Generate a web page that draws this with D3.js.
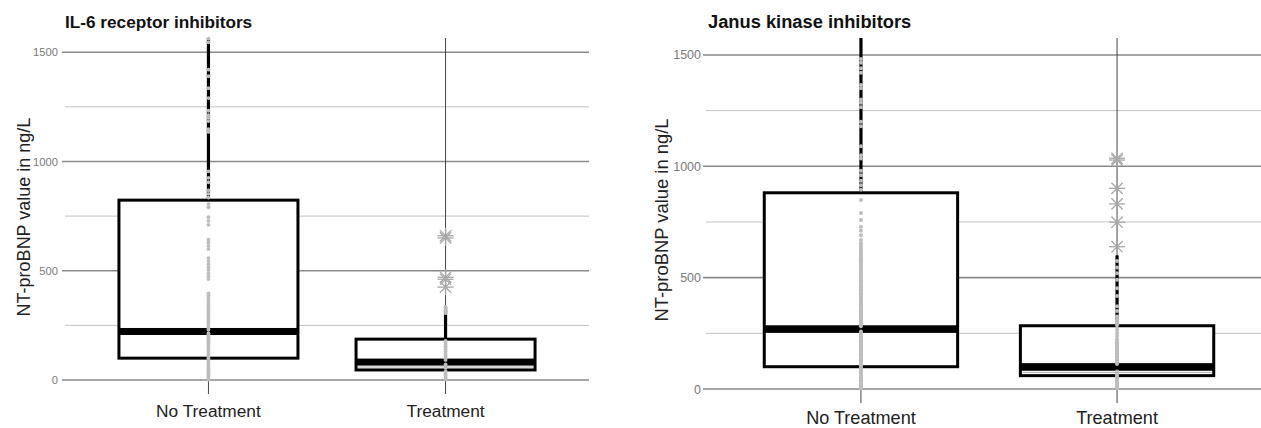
<!DOCTYPE html>
<html><head><meta charset="utf-8">
<script src="https://cdn.jsdelivr.net/npm/d3@7"></script>
<style>body{margin:0;background:#fff}svg{display:block}text{font-family:"Liberation Sans",Arial,sans-serif}</style>
</head><body><svg id="c" width="1261" height="428"></svg>
<script>
// ---------- data ----------
const categories = ["No Treatment", "Treatment"];
const yTicksMajor = [0, 500, 1000, 1500];
const yTicksMinor = [250, 750, 1250];
const yTitle = "NT-proBNP value in ng/L";

// IL-6 receptor inhibitors
const il6Title = "IL-6 receptor inhibitors";
const il6Q1 = [100, 46];
const il6Median = [222, 82];
const il6Q3 = [823, 187];
const il6WhiskerMax = [1600, 335];
const il6PointsNo = [2, 9, 16, 24, 31, 39, 46, 53, 61, 69, 76, 84, 91, 99, 107, 114, 122, 129, 137, 145, 152, 160, 168, 176, 183, 191, 199, 207, 214, 231, 239, 247, 256, 264, 272, 281, 290, 299, 309, 318, 328, 337, 347, 357, 367, 377, 388, 396, 462, 475, 489, 503, 516, 530, 544, 558, 600, 614, 628, 642, 710, 728, 745, 790, 805, 835, 852, 868, 905, 925, 955, 1135, 1148, 1185, 1200, 1212, 1232, 1290, 1335, 1390, 1420, 1545, 1562];
const il6PointsTr = [3, 10, 18, 25, 33, 40, 56, 63, 71, 92, 100, 108, 116, 124, 131, 139, 147, 155, 163, 171, 179, 306, 314, 322, 334];
const il6Outliers = [660, 650, 470, 461, 425];

// Janus kinase inhibitors
const jakTitle = "Janus kinase inhibitors";
const jakQ1 = [100, 60];
const jakMedian = [269, 99];
const jakQ3 = [881, 284];
const jakWhiskerMax = [1620, 600];
const jakPointsNo = [3, 10, 17, 24, 32, 39, 46, 53, 61, 68, 75, 82, 90, 97, 104, 112, 119, 126, 134, 141, 148, 156, 163, 170, 178, 185, 192, 200, 207, 214, 222, 229, 236, 244, 251, 258, 282, 289, 297, 304, 312, 319, 327, 334, 342, 349, 357, 364, 372, 380, 387, 395, 402, 410, 418, 425, 433, 441, 448, 456, 464, 472, 480, 488, 496, 504, 512, 520, 528, 536, 545, 553, 561, 570, 578, 586, 595, 603, 612, 620, 629, 638, 647, 656, 669, 690, 710, 728, 759, 790, 849, 895, 915, 935, 960, 980, 1035, 1050, 1090, 1180, 1200, 1265, 1285, 1300, 1350, 1365, 1420, 1440, 1465, 1482];
const jakPointsTr = [2, 9, 16, 23, 30, 37, 44, 51, 58, 65, 72, 79, 112, 119, 126, 133, 140, 147, 154, 161, 168, 175, 182, 189, 196, 203, 210, 217, 224, 238, 252, 266, 286, 294, 302, 312, 326, 350, 372, 418, 452, 490, 520, 545, 575];
const jakOutliers = [1036, 1028, 901, 831, 749, 639];

// ---------- drawing ----------
const svg = d3.select("#c");

function panel(cfg) {
  const g = svg.append("g");
  const x = d3.scalePoint().domain(categories).range([cfg.x0, cfg.x1]).padding(0.605);
  const y = d3.scaleLinear().domain([0, cfg.yMax]).range([cfg.yZero, cfg.yTop]);
  const step = x.step();
  const bw = step * 0.755;

  // gridlines
  g.selectAll(".minor").data(yTicksMinor).join("line")
    .attr("x1", cfg.x0).attr("x2", cfg.x1)
    .attr("y1", d => y(d)).attr("y2", d => y(d))
    .attr("stroke", "#c2c2c2").attr("stroke-width", 1);
  g.selectAll(".major").data(yTicksMajor).join("line")
    .attr("x1", cfg.x0 - 3).attr("x2", cfg.x1)
    .attr("y1", d => y(d)).attr("y2", d => y(d))
    .attr("stroke", "#8a8a8a").attr("stroke-width", 1.6);
  g.selectAll(".tl").data(yTicksMajor).join("text")
    .attr("x", cfg.x0 - cfg.tickGap).attr("y", d => y(d))
    .attr("dy", "0.36em").attr("text-anchor", "end")
    .attr("font-size", cfg.tickFs).attr("fill", "#7a7a7a")
    .text(d => d);

  // vertical category lines / ticks
  g.selectAll(".vl").data(categories).join("line")
    .attr("x1", d => x(d)).attr("x2", d => x(d))
    .attr("y1", cfg.yTop).attr("y2", cfg.yZero + 14)
    .attr("stroke", "#444").attr("stroke-width", 1);

  // x labels
  g.selectAll(".xl").data(categories).join("text")
    .attr("x", d => x(d)).attr("y", cfg.xLabY)
    .attr("text-anchor", "middle").attr("font-size", cfg.xFs).attr("fill", "#222")
    .text(d => d);

  const clipTop = y(cfg.yMax);
  categories.forEach((c, i) => {
    const cx = x(c);
    // whisker
    g.append("line")
      .attr("x1", cx).attr("x2", cx)
      .attr("y1", y(cfg.q3[i])).attr("y2", Math.max(clipTop, y(cfg.wmax[i])))
      .attr("stroke", "#000").attr("stroke-width", 3.2);
    // box
    g.append("rect")
      .attr("x", cx - bw / 2).attr("width", bw)
      .attr("y", y(cfg.q3[i])).attr("height", y(cfg.q1[i]) - y(cfg.q3[i]))
      .attr("fill", "#fff").attr("stroke", "#000").attr("stroke-width", 3);
    // median band
    const mh = cfg.medH;
    g.append("rect")
      .attr("x", cx - bw / 2).attr("width", bw)
      .attr("y", y(cfg.med[i]) - mh / 2).attr("height", mh)
      .attr("fill", "#000");
    const gap = y(cfg.q1[i]) - 1.5 - (y(cfg.med[i]) + mh / 2);
    if (gap < 4) {
      g.append("line")
        .attr("x1", cx - bw / 2 + 2).attr("x2", cx + bw / 2 - 2)
        .attr("y1", y(cfg.q1[i]) - 1.5 - gap / 2).attr("y2", y(cfg.q1[i]) - 1.5 - gap / 2)
        .attr("stroke", "#b0b0b0").attr("stroke-width", 1);
    }
  });

  // points
  const pts = [cfg.ptsNo, cfg.ptsTr];
  pts.forEach((arr, i) => {
    g.selectAll(null).data(arr).join("circle")
      .attr("cx", x(categories[i])).attr("cy", d => y(d))
      .attr("r", cfg.ptR).attr("fill", "#bdbdbd");
  });

  // outliers (asterisks)
  const ax = x(categories[1]);
  const spokes = [0, 45, 90, 135];
  cfg.out.forEach(v => {
    const cy = y(v);
    spokes.forEach(a => {
      const r = 8, t = a * Math.PI / 180;
      g.append("line")
        .attr("x1", ax - r * Math.cos(t)).attr("x2", ax + r * Math.cos(t))
        .attr("y1", cy - r * Math.sin(t)).attr("y2", cy + r * Math.sin(t))
        .attr("stroke", "#a8a8a8").attr("stroke-width", 1.3);
    });
  });

  // titles
  g.append("text").attr("x", cfg.titleX).attr("y", 28)
    .attr("font-size", cfg.titleFs).attr("font-weight", "bold").attr("fill", "#111")
    .text(cfg.title);
  g.append("text")
    .attr("transform", `translate(${cfg.ytX},${cfg.ytY}) rotate(-90)`)
    .attr("text-anchor", "middle").attr("font-size", cfg.ytFs).attr("fill", "#222")
    .text(yTitle);
}

panel({
  x0: 65, x1: 589, yZero: 380, yTop: 38, yMax: 1565,
  q1: il6Q1, med: il6Median, q3: il6Q3, wmax: il6WhiskerMax,
  ptsNo: il6PointsNo, ptsTr: il6PointsTr, out: il6Outliers,
  title: il6Title, titleX: 65, titleFs: 17.2,
  tickFs: 11.2, tickGap: 7, xFs: 17.3, xLabY: 417, medH: 7, ptR: 1.9,
  ytX: 30, ytY: 217, ytFs: 18
});
panel({
  x0: 706, x1: 1272, yZero: 389, yTop: 38, yMax: 1576,
  q1: jakQ1, med: jakMedian, q3: jakQ3, wmax: jakWhiskerMax,
  ptsNo: jakPointsNo, ptsTr: jakPointsTr, out: jakOutliers,
  title: jakTitle, titleX: 708, titleFs: 18.3,
  tickFs: 12.5, tickGap: 5, xFs: 18.1, xLabY: 423.5, medH: 7.6, ptR: 2,
  ytX: 668, ytY: 220, ytFs: 18.4
});
</script></body></html>
